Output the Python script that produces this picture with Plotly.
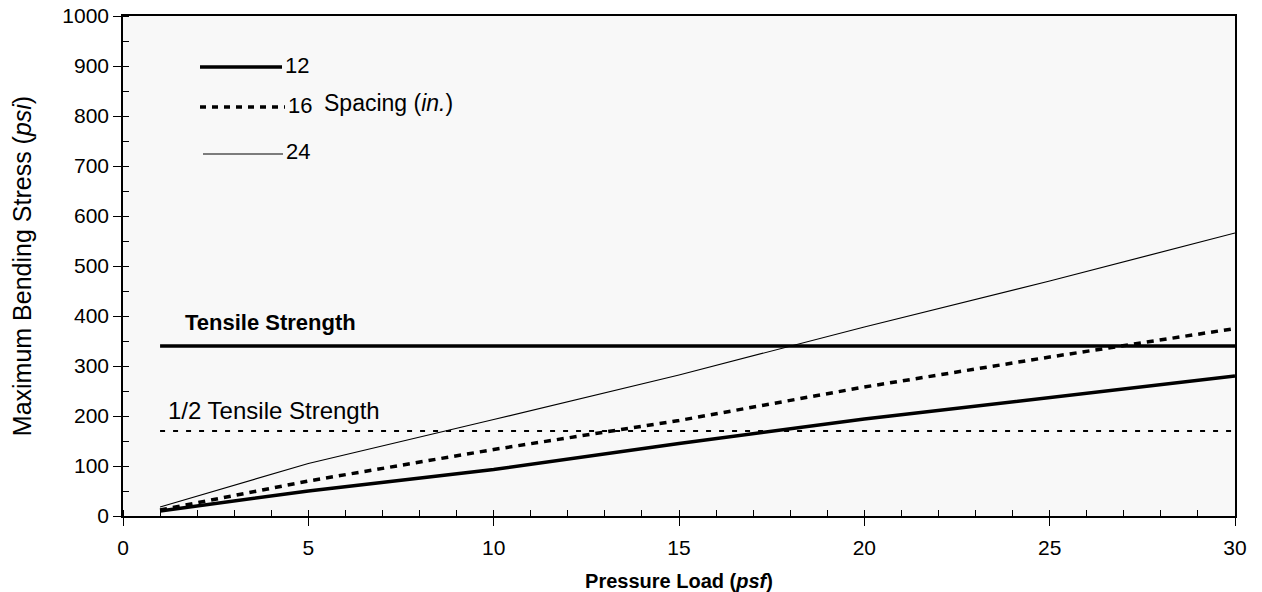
import plotly.graph_objects as go

# Data
pressure = [1, 5, 10, 15, 20, 25, 30]
stress_12 = [10, 50, 93, 145, 194, 237, 280]
stress_16 = [12, 70, 133, 191, 258, 318, 375]
stress_24 = [18, 105, 193, 282, 378, 470, 566]
limit_x = [1, 30]
tensile = [340, 340]
half_tensile = [170, 170]

x_ticks = [0, 5, 10, 15, 20, 25, 30]
y_ticks = [0, 100, 200, 300, 400, 500, 600, 700, 800, 900, 1000]

FONT = "Liberation Sans, Arial, sans-serif"

fig = go.Figure()
fig.add_trace(go.Scatter(x=limit_x, y=tensile, mode="lines",
                         line=dict(color="black", width=3.5), showlegend=False))
fig.add_trace(go.Scatter(x=limit_x, y=half_tensile, mode="lines",
                         line=dict(color="black", width=2, dash="5px,8px"), showlegend=False))
fig.add_trace(go.Scatter(x=pressure, y=stress_12, mode="lines",
                         line=dict(color="black", width=3.5), showlegend=False))
fig.add_trace(go.Scatter(x=pressure, y=stress_16, mode="lines",
                         line=dict(color="black", width=3.5, dash="7px,6px"), showlegend=False))
fig.add_trace(go.Scatter(x=pressure, y=stress_24, mode="lines",
                         line=dict(color="black", width=1.2), showlegend=False))

# Legend sample lines (paper coordinates)
def px_x(p):
    return (p - 123) / (1235 - 123)

def px_y(p):
    return (516 - p) / (516 - 16)

shapes = [
    dict(type="line", xref="paper", yref="paper", x0=px_x(200), x1=px_x(282),
         y0=px_y(67), y1=px_y(67), line=dict(color="black", width=3.5)),
    dict(type="line", xref="paper", yref="paper", x0=px_x(200), x1=px_x(285),
         y0=px_y(107), y1=px_y(107), line=dict(color="black", width=3.5, dash="6px,6px")),
    dict(type="line", xref="paper", yref="paper", x0=px_x(203), x1=px_x(283),
         y0=px_y(154), y1=px_y(154), line=dict(color="black", width=1.2)),
]

annotations = [
    dict(text="12", x=px_x(283), y=px_y(66), xref="paper", yref="paper",
         xanchor="left", yanchor="middle", showarrow=False, font=dict(size=22)),
    dict(text="16", x=px_x(286), y=px_y(105), xref="paper", yref="paper",
         xanchor="left", yanchor="middle", showarrow=False, font=dict(size=22)),
    dict(text="24", x=px_x(284), y=px_y(151), xref="paper", yref="paper",
         xanchor="left", yanchor="middle", showarrow=False, font=dict(size=22)),
    dict(text="Spacing (<i>in.</i>)", x=px_x(322), y=px_y(103), xref="paper", yref="paper",
         xanchor="left", yanchor="middle", showarrow=False, font=dict(size=23)),
    dict(text="<b>Tensile Strength</b>", x=px_x(183), y=px_y(322), xref="paper", yref="paper",
         xanchor="left", yanchor="middle", showarrow=False, font=dict(size=22)),
    dict(text="1/2 Tensile Strength", x=px_x(166), y=px_y(410), xref="paper", yref="paper",
         xanchor="left", yanchor="middle", showarrow=False, font=dict(size=24)),
]

fig.update_layout(
    width=1262, height=592,
    margin=dict(l=123, r=27, t=16, b=76),
    paper_bgcolor="white", plot_bgcolor="#f8f8f8",
    font=dict(family=FONT, color="black", size=20),
    shapes=shapes, annotations=annotations,
    showlegend=False,
)
fig.update_xaxes(
    range=[0, 30], tickvals=x_ticks, ticks="outside", ticklen=8, tickcolor="black",
    showline=True, linecolor="black", linewidth=1.5, mirror=True,
    showgrid=False, zeroline=False, automargin=False,
    minor=dict(dtick=1, ticks="inside", ticklen=6, tickcolor="black"),
    tickfont=dict(size=21), ticklabelstandoff=4,
    title=dict(text="<b>Pressure Load (<i>psf</i>)</b>", font=dict(size=20), standoff=16),
)
fig.update_yaxes(
    range=[0, 1000], tickvals=y_ticks, ticks="outside", ticklen=8, tickcolor="black",
    showline=True, linecolor="black", linewidth=1.5, mirror=True,
    showgrid=False, zeroline=False, automargin=False,
    minor=dict(dtick=50, ticks="inside", ticklen=6, tickcolor="black"),
    tickfont=dict(size=21),
    title=dict(text="Maximum Bending Stress (<i>psi</i>)", font=dict(size=25), standoff=24),
)

fig.write_html("out.html")
